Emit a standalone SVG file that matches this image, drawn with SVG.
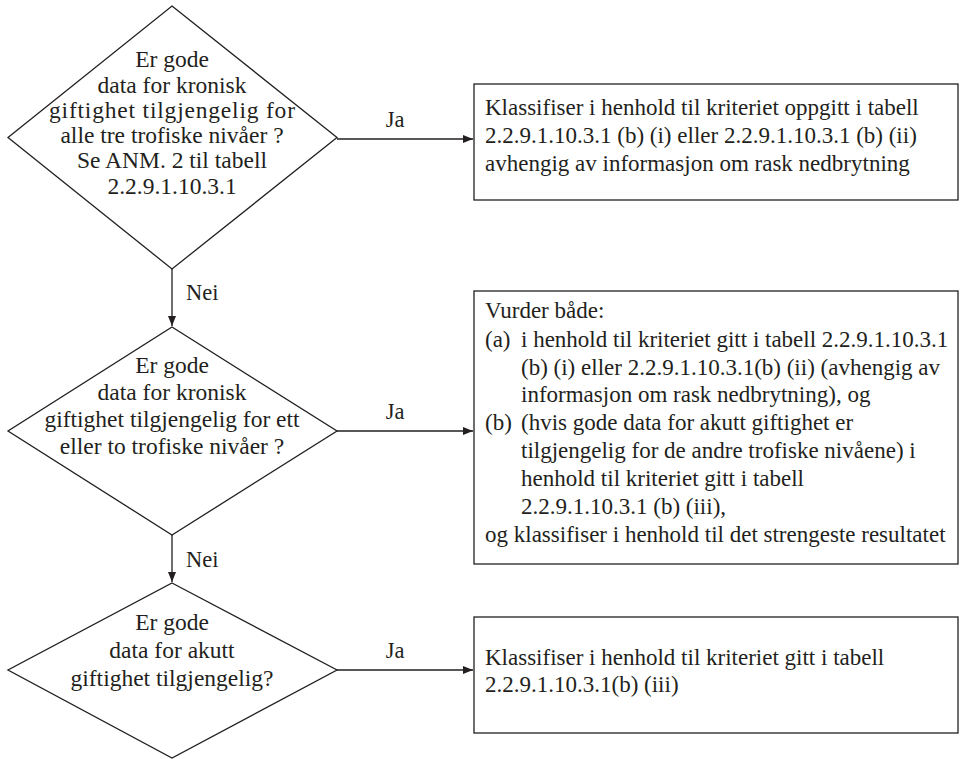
<svg xmlns="http://www.w3.org/2000/svg" width="966" height="759" viewBox="0 0 966 759">
<style>
.shape{fill:#fff;stroke:#231f20;stroke-width:1.3}
.conn{fill:none;stroke:#231f20;stroke-width:1.3}
text{font-family:"Liberation Serif","Times New Roman",serif;fill:#231f20}
.dt{font-size:23.5px;text-anchor:middle}
.bt{font-size:23px}
.lbl{font-size:22.5px}
</style>
<defs>
<marker id="ah" markerWidth="10" markerHeight="10" refX="10" refY="5" orient="auto" markerUnits="userSpaceOnUse">
<path d="M0,1 L10,5 L0,9 Z" fill="#231f20"/>
</marker>
</defs>
<rect width="966" height="759" fill="#fff"/>
<g id="connectors">
<line class="conn" x1="337" y1="139" x2="473" y2="139" marker-end="url(#ah)"/>
<text class="lbl" x="395" y="127" text-anchor="middle">Ja</text>
<line class="conn" x1="172" y1="269" x2="172" y2="326" marker-end="url(#ah)"/>
<text class="lbl" x="186" y="300">Nei</text>
<line class="conn" x1="337" y1="431" x2="473" y2="431" marker-end="url(#ah)"/>
<text class="lbl" x="395" y="419" text-anchor="middle">Ja</text>
<line class="conn" x1="172" y1="535" x2="172" y2="582" marker-end="url(#ah)"/>
<text class="lbl" x="186" y="567">Nei</text>
<line class="conn" x1="337" y1="670" x2="473" y2="670" marker-end="url(#ah)"/>
<text class="lbl" x="395" y="658" text-anchor="middle">Ja</text>
</g>
<g id="d1">
<polygon class="shape" points="172,6 337,137.5 172,269 8,137.5"/>
<text class="dt"><tspan x="172" y="67">Er gode</tspan><tspan x="172" y="93">data for kronisk</tspan><tspan x="172" y="118" textLength="246" lengthAdjust="spacing">giftighet tilgjengelig for</tspan><tspan x="172" y="143">alle tre trofiske nivåer ?</tspan><tspan x="172" y="168">Se ANM. 2 til tabell</tspan><tspan x="172" y="194">2.2.9.1.10.3.1</tspan></text>
</g>
<g id="b1">
<rect class="shape" x="474" y="84" width="484" height="116"/>
<text class="bt"><tspan x="485" y="115">Klassifiser i henhold til kriteriet oppgitt i tabell</tspan><tspan x="485" y="143">2.2.9.1.10.3.1 (b) (i) eller 2.2.9.1.10.3.1 (b) (ii)</tspan><tspan x="485" y="171">avhengig av informasjon om rask nedbrytning</tspan></text>
</g>
<g id="d2">
<polygon class="shape" points="172,327 337,431 172,535 8,431"/>
<text class="dt"><tspan x="172" y="373">Er gode</tspan><tspan x="172" y="400">data for kronisk</tspan><tspan x="172" y="427">giftighet tilgjengelig for ett</tspan><tspan x="172" y="454">eller to trofiske nivåer ?</tspan></text>
</g>
<g id="b2">
<rect class="shape" x="474" y="291" width="484" height="273"/>
<text class="bt"><tspan x="485" y="318">Vurder både:</tspan><tspan x="485" y="347">(a)</tspan><tspan x="521" y="347">i henhold til kriteriet gitt i tabell 2.2.9.1.10.3.1</tspan><tspan x="521" y="375">(b) (i) eller 2.2.9.1.10.3.1(b) (ii) (avhengig av</tspan><tspan x="521" y="402">informasjon om rask nedbrytning), og</tspan><tspan x="485" y="430">(b)</tspan><tspan x="521" y="430">(hvis gode data for akutt giftighet er</tspan><tspan x="521" y="458">tilgjengelig for de andre trofiske nivåene) i</tspan><tspan x="521" y="486">henhold til kriteriet gitt i tabell</tspan><tspan x="521" y="514">2.2.9.1.10.3.1 (b) (iii),</tspan><tspan x="485" y="542">og klassifiser i henhold til det strengeste resultatet</tspan></text>
</g>
<g id="d3">
<polygon class="shape" points="172,583 337,670 172,758 8,670"/>
<text class="dt"><tspan x="172" y="630">Er gode</tspan><tspan x="172" y="658">data for akutt</tspan><tspan x="172" y="686">giftighet tilgjengelig?</tspan></text>
</g>
<g id="b3">
<rect class="shape" x="474" y="617" width="484" height="116"/>
<text class="bt"><tspan x="485" y="665">Klassifiser i henhold til kriteriet gitt i tabell</tspan><tspan x="485" y="692">2.2.9.1.10.3.1(b) (iii)</tspan></text>
</g>
</svg>
